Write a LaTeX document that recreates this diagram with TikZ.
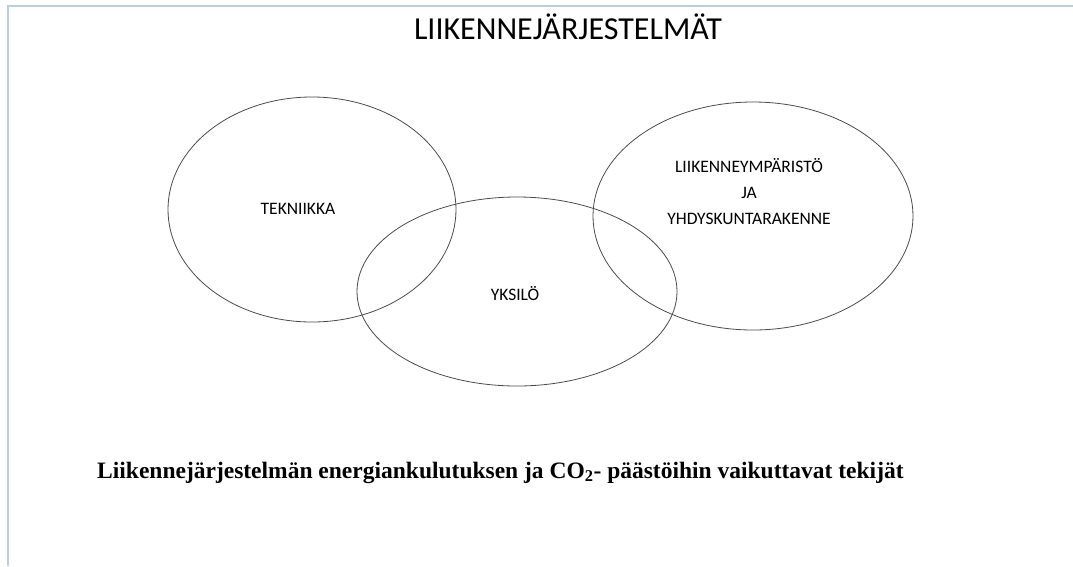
\documentclass[tikz,border=0pt]{standalone}
\usepackage{fontspec}
\setmainfont{Liberation Serif}
\newfontfamily\labelfont{Carlito}
\definecolor{frameblue}{RGB}{185,205,229}
\definecolor{ringgray}{RGB}{75,75,75}
\begin{document}
\begin{tikzpicture}[x=1pt,y=-1pt,
  ring/.style={draw=ringgray,line width=0.8pt},
  tag/.style={font=\labelfont\fontsize{17.5}{26}\selectfont,align=center,inner sep=0pt}]
\useasboundingbox (0,0) rectangle (1073,566);
%\draw[help lines,step=100] (0,0) grid (1073,566);
\draw[frameblue,line width=1.5pt] (8,566) -- (8,6) -- (1073,6);
\node[font=\labelfont\fontsize{32}{36}\selectfont] (title) at (568,27) {LIIKENNEJÄRJESTELMÄT};
% kolme joukkoa
\draw[ring] (312,209.5) ellipse (144pt and 112.5pt);
\draw[ring] (517,291.5) ellipse (160pt and 94.5pt);
\draw[ring] (753,216) ellipse (160pt and 114pt);
\node[tag] (tek) at (298,209) {TEKNIIKKA};
\node[tag] (yks) at (515,294) {YKSILÖ};
\node[tag] (ymp) at (749,192) {LIIKENNEYMPÄRISTÖ\\JA\\YHDYSKUNTARAKENNE};
\node[font=\bfseries\fontsize{23.5}{26}\selectfont,anchor=base west,inner sep=0pt] (cap) at (97,478)
  {Liikennejärjestelmän energiankulutuksen ja CO\textsubscript{2}- päästöihin vaikuttavat tekijät};
\end{tikzpicture}
\end{document}
